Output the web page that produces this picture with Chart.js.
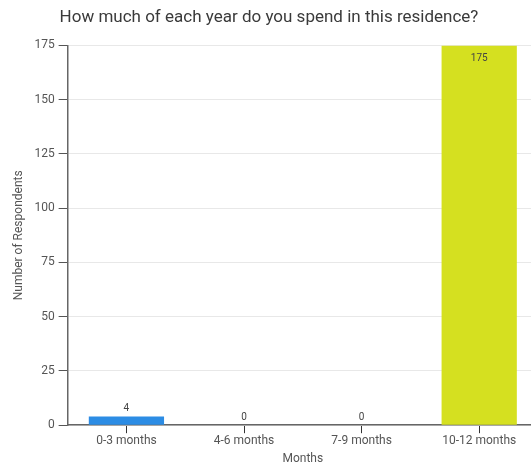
<!DOCTYPE html>
<html>
<head>
<meta charset="utf-8">
<script src="https://cdn.jsdelivr.net/npm/chart.js@4/dist/chart.umd.min.js"></script>
<style>
  html, body { margin: 0; padding: 0; background: #fff; overflow: hidden; }
  #wrap { width: 538px; height: 466px; }
</style>
</head>
<body>
<div id="wrap"><canvas id="myChart" width="538" height="466"></canvas></div>
<script>
const categories = ['0-3 months', '4-6 months', '7-9 months', '10-12 months'];
const respondents = [4, 0, 0, 175];
const barColors = ['rgb(44, 140, 228)', 'rgb(44, 140, 228)', 'rgb(44, 140, 228)', 'rgb(213, 224, 32)'];

// value labels: above short bars, inside the top of tall ones
const valueLabels = {
    id: 'valueLabels',
    afterDatasetsDraw(chart) {
        const ctx = chart.ctx;
        const meta = chart.getDatasetMeta(0);
        ctx.save();
        ctx.font = '10px Roboto';
        ctx.fillStyle = '#444';
        ctx.textAlign = 'center';
        meta.data.forEach((bar, i) => {
            const v = respondents[i];
            if (v > 20) {
                ctx.textBaseline = 'top';
                ctx.fillText(v, bar.x, bar.y + 8);
            } else {
                ctx.textBaseline = 'bottom';
                ctx.fillText(v, bar.x, bar.y - 3);
            }
        });
        ctx.restore();
    }
};

const ctx = document.getElementById('myChart');
const myChart = new Chart(ctx, {
    type: 'bar',
    data: {
        labels: categories,
        datasets: [{
            label: 'Respondents',
            data: respondents,
            backgroundColor: barColors,
            borderWidth: 0,
            barPercentage: 0.8,
            categoryPercentage: 0.8
        }]
    },
    options: {
        responsive: false,
        animation: false,
        scales: {
            x: {
                grid: {
                    display: true,
                    drawOnChartArea: false,
                    offset: false,
                    tickLength: 8,
                    tickColor: '#333'
                },
                border: { color: '#666', width: 1.5 },
                ticks: { color: '#555', font: { family: 'Roboto', size: 12 }, padding: 1 },
                title: {
                    display: true,
                    text: 'Months',
                    color: '#555',
                    font: { family: 'Roboto', size: 12 },
                    padding: { top: 2, bottom: 0 }
                }
            },
            y: {
                min: 0,
                max: 175,
                grid: {
                    color: '#e8e8e8',
                    tickLength: 9,
                    tickColor: '#555'
                },
                border: { color: '#666', width: 1.5 },
                ticks: {
                    stepSize: 25,
                    color: '#555',
                    font: { family: 'Roboto', size: 12 },
                    padding: 4
                },
                title: {
                    display: true,
                    text: 'Number of Respondents',
                    color: '#555',
                    font: { family: 'Roboto', size: 12 },
                    padding: { top: 12, bottom: 4 }
                }
            }
        },
        plugins: {
            legend: { display: false },
            tooltip: { enabled: false },
            title: {
                display: true,
                text: 'How much of each year do you spend in this residence?',
                color: '#3a3a3a',
                font: { family: 'Roboto', size: 17, weight: 'normal' },
                padding: { top: 0, bottom: 17 }
            }
        },
        layout: {
            padding: { top: 8, left: 0, right: 0, bottom: 0 }
        }
    },
    plugins: [valueLabels]
});
</script>
</body>
</html>
